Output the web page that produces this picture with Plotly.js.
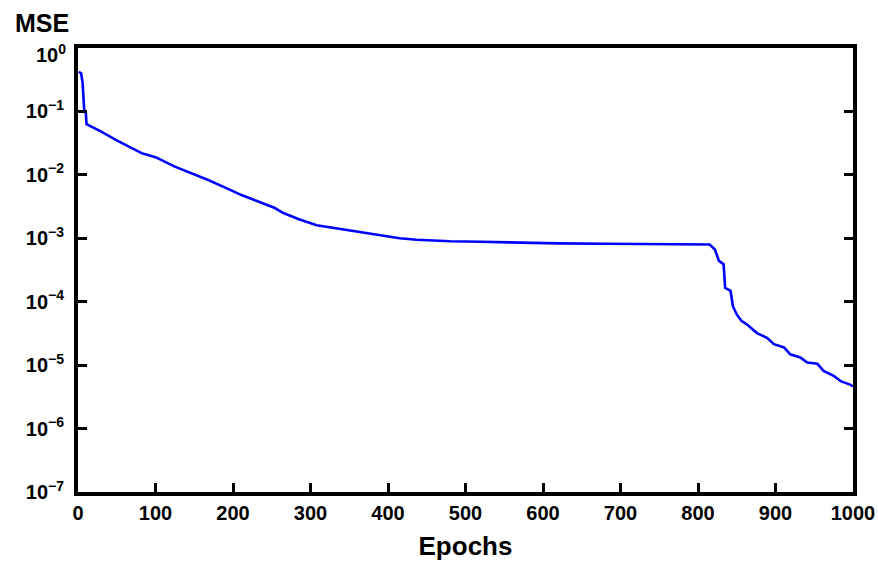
<!DOCTYPE html>
<html>
<head>
<meta charset="utf-8">
<script src="https://cdn.plot.ly/plotly-3.0.1.min.js"></script>
<style>html,body{margin:0;padding:0;background:#fff;}#chart{width:878px;height:561px;}</style>
</head>
<body>
<div id="chart"></div>
<script>
const epochs = [1, 4, 6, 7, 8, 10, 11, 30, 50, 82, 100, 125, 150, 168, 190, 211, 235, 254, 265, 285, 308, 330, 351, 375, 394, 415, 437, 460, 480, 520, 570, 620, 680, 730, 773, 805, 815, 822, 827, 833, 835, 842, 845, 850, 856, 863, 876, 889, 898, 911, 919, 932, 941, 954, 962, 975, 984, 997, 1000];
const mse = [0.42, 0.40, 0.28, 0.12, 0.105, 0.1, 0.063, 0.048, 0.035, 0.022, 0.019, 0.0135, 0.0102, 0.0083, 0.0063, 0.0048, 0.0037, 0.003, 0.0025, 0.002, 0.0016, 0.00145, 0.0013, 0.00117, 0.00107, 0.001, 0.00095, 0.00091, 0.0009, 0.00088, 0.00085, 0.00083, 0.00082, 0.00082, 0.00082, 0.00081, 0.0008, 0.00066, 0.00044, 0.00039, 0.000166, 0.000148, 8.5e-5, 6.3e-5, 5.0e-5, 4.4e-5, 3.2e-5, 2.7e-5, 2.14e-5, 1.9e-5, 1.48e-5, 1.32e-5, 1.1e-5, 1.05e-5, 8.1e-6, 6.8e-6, 5.6e-6, 4.9e-6, 4.6e-6];
const yTickVals = [1e-7, 1e-6, 1e-5, 1e-4, 1e-3, 1e-2, 1e-1, 1];
const yTickText = ['10<sup>−7</sup>', '10<sup>−6</sup>', '10<sup>−5</sup>', '10<sup>−4</sup>', '10<sup>−3</sup>', '10<sup>−2</sup>', '10<sup>−1</sup>', ''];
const yTopLabel = '10<sup>0</sup>';
const xTickVals = [0, 100, 200, 300, 400, 500, 600, 700, 800, 900, 1000];
const xTickText = ['0', '100', '200', '300', '400', '500', '600', '700', '800', '900', '1000'];

const fam = 'Liberation Sans, Arial, sans-serif';
const fnt = {family: fam, size: 20, color: '#000', weight: 'bold'};

Plotly.newPlot('chart', [{
  x: epochs, y: mse, type: 'scatter', mode: 'lines',
  line: {color: '#0000ff', width: 2.6}, hoverinfo: 'skip'
}], {
  width: 878, height: 561,
  margin: {l: 78, r: 25, t: 48, b: 69},
  paper_bgcolor: '#fff', plot_bgcolor: '#fff',
  showlegend: false,
  xaxis: {
    range: [0, 1000], tickvals: xTickVals, ticktext: xTickText,
    ticks: 'inside', ticklen: 9, tickwidth: 3, tickcolor: '#000',
    showline: true, linewidth: 4, linecolor: '#000', mirror: true,
    showgrid: false, zeroline: false, tickfont: fnt,
    title: {text: 'Epochs', font: {family: fam, size: 26, color: '#000', weight: 'bold'}, standoff: 16}
  },
  yaxis: {
    type: 'log', range: [-7, 0], tickvals: yTickVals, ticktext: yTickText,
    ticks: 'inside', ticklen: 9, tickwidth: 3, tickcolor: '#000',
    showline: true, linewidth: 4, linecolor: '#000', mirror: 'ticks',
    showgrid: false, zeroline: false, tickfont: fnt, ticklabelstandoff: 6
  },
  annotations: [{
    text: 'MSE', xref: 'paper', yref: 'paper', x: 0, y: 1, xshift: -65, yshift: 25,
    xanchor: 'left', yanchor: 'middle', showarrow: false,
    font: {family: fam, size: 25, color: '#000', weight: 'bold'}
  }, {
    text: yTopLabel, xref: 'paper', yref: 'paper', x: 0, y: 1, xshift: -10, yshift: -5,
    xanchor: 'right', yanchor: 'middle', showarrow: false, font: fnt
  }]
}, {staticPlot: true});
</script>
</body>
</html>
